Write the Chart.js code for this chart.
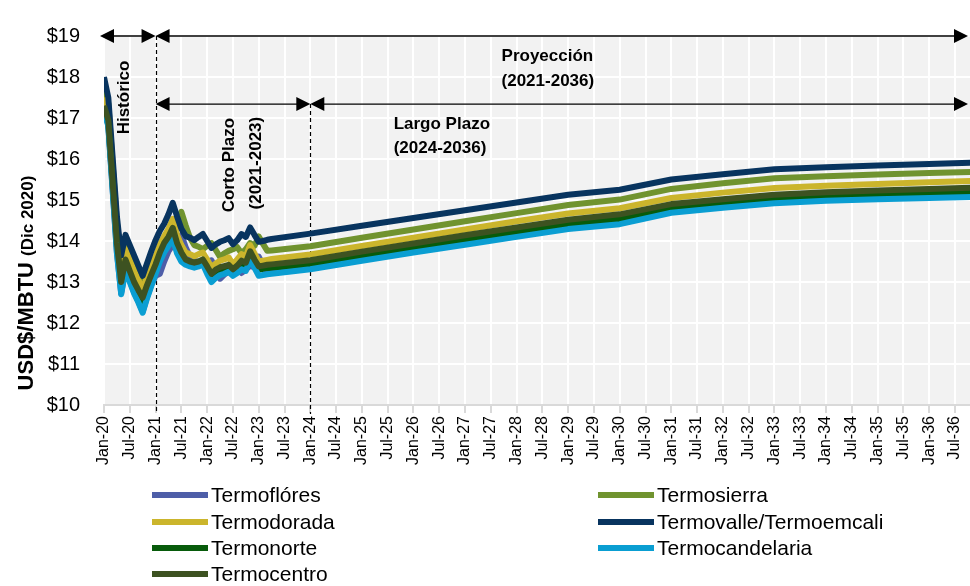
<!DOCTYPE html>
<html>
<head>
<meta charset="utf-8">
<script src="https://cdn.jsdelivr.net/npm/chart.js@4"></script>
<style>
  html, body { margin: 0; padding: 0; background: #fff; }
  #wrap { width: 970px; height: 586px; }
</style>
</head>
<body>
<div id="wrap"><canvas id="gasChart" width="970" height="586"></canvas></div>
<script>
// --- Etiquetas mensuales Jan-20 ... Dec-36 ---
const monthNames = ['Jan', 'Feb', 'Mar', 'Apr', 'May', 'Jun', 'Jul', 'Aug', 'Sep', 'Oct', 'Nov', 'Dec'];
const months = [];
for (let yr = 20; yr <= 36; yr++) {
    monthNames.forEach(m => months.push(m + '-' + yr));
}

// Tramo mensual (Jan-20 .. Apr-23) y vértices anuales del largo plazo
const shortTermMonths = months.slice(0, 40);
const longTermMonths = ['Jan-24', 'Jan-25', 'Jan-26', 'Jan-27', 'Jan-28', 'Jan-29', 'Jan-30',
    'Jan-31', 'Jan-32', 'Jan-33', 'Jan-34', 'Jan-35', 'Jan-36', 'Dec-36'];

const seriesNames = ['Termoflóres', 'Termosierra', 'Termodorada', 'Termovalle/Termoemcali',
    'Termonorte', 'Termocandelaria', 'Termocentro'];
const seriesColors = ['#4e5ea8', '#70932f', '#cbb52c', '#08345f', '#075b0b', '#0a9ed2', '#3d5221'];

// --- Precios USD$/MBTU (Dic 2020) ---
const floresShort = [17.23, 16.83, 15.28, 13.73, 12.73, 13.33, 13.03, 12.75, 12.53, 12.28, 12.63, 12.93,
    13.15, 13.2, 13.5, 13.75, 13.9, 14.05, 14.15, 13.85, 13.62, 13.52, 13.48, 13.45,
    13.48, 13.53, 13.3, 13.08, 13.18, 13.25, 13.3, 13.35, 13.22, 13.3, 13.4, 13.35,
    13.62, 13.42, 13.22, 13.24];
const floresLong = [13.37, 13.58, 13.78, 13.97, 14.16, 14.35, 14.47, 14.75, 14.87, 14.98, 15.04, 15.08, 15.11, 15.14];

const sierraShort = [17.78, 17.35, 15.9, 14.45, 13.45, 13.95, 13.7, 13.45, 13.2, 12.95, 13.2, 13.4,
    13.55, 13.62, 13.8, 14.08, 14.28, 14.43, 14.71, 14.38, 14.08, 13.9, 13.86, 13.8,
    13.88, 13.95, 13.78, 13.61, 13.7, 13.76, 13.8, 13.85, 13.7, 13.8, 13.95, 13.88,
    14.11, 13.93, 13.76, 13.77];
const sierraLong = [13.87, 14.08, 14.28, 14.48, 14.68, 14.88, 15.01, 15.27, 15.41, 15.53, 15.58, 15.62, 15.66, 15.69];

const doradaShort = [17.5, 17.1, 15.65, 14.2, 13.25, 13.8, 13.52, 13.27, 13.05, 12.82, 13.12, 13.4,
    13.63, 13.92, 14.12, 14.3, 14.54, 14.15, 13.9, 13.72, 13.68, 13.63, 13.68, 13.72,
    13.55, 13.36, 13.45, 13.52, 13.55, 13.6, 13.43, 13.55, 13.68, 13.62, 13.9, 13.7,
    13.5, 13.52, 13.54, 13.56];
const doradaLong = [13.67, 13.88, 14.08, 14.28, 14.48, 14.67, 14.8, 15.05, 15.18, 15.29, 15.35, 15.39, 15.43, 15.47];

const valleShort = [18.0, 17.5, 16.05, 14.6, 13.65, 14.15, 13.9, 13.65, 13.4, 13.15, 13.45, 13.75,
    14.02, 14.25, 14.42, 14.65, 14.93, 14.6, 14.3, 14.12, 14.08, 14.02, 14.1, 14.17,
    14.0, 13.83, 13.92, 13.98, 14.02, 14.07, 13.92, 14.02, 14.17, 14.1, 14.33, 14.15,
    13.98, 14.0, 14.03, 14.05];
const valleLong = [14.18, 14.37, 14.56, 14.75, 14.94, 15.13, 15.25, 15.5, 15.63, 15.75, 15.8, 15.84, 15.88, 15.91];

const norteShort = [17.22, 16.87, 15.37, 13.87, 12.92, 13.47, 13.19, 12.92, 12.72, 12.54, 12.84, 13.1,
    13.35, 13.64, 13.87, 14.02, 14.24, 13.87, 13.64, 13.47, 13.42, 13.39, 13.42, 13.47,
    13.3, 13.12, 13.22, 13.28, 13.31, 13.34, 13.23, 13.32, 13.44, 13.39, 13.67, 13.47,
    13.3, 13.32, 13.34, 13.35];
const norteLong = [13.43, 13.64, 13.84, 14.03, 14.22, 14.41, 14.53, 14.79, 14.91, 15.02, 15.08, 15.12, 15.16, 15.19];

const candelariaShort = [17.2, 16.8, 15.25, 13.7, 12.7, 13.3, 13.0, 12.72, 12.5, 12.25, 12.6, 12.9,
    13.2, 13.5, 13.72, 13.88, 14.06, 13.7, 13.5, 13.42, 13.38, 13.35, 13.38, 13.43,
    13.2, 13.0, 13.1, 13.17, 13.2, 13.25, 13.15, 13.22, 13.31, 13.27, 13.55, 13.35,
    13.15, 13.17, 13.19, 13.2];
const candelariaLong = [13.31, 13.52, 13.72, 13.91, 14.1, 14.29, 14.41, 14.69, 14.81, 14.92, 14.98, 15.02, 15.05, 15.08];

const centroShort = [17.3, 16.95, 15.45, 13.95, 13.0, 13.55, 13.27, 13.0, 12.8, 12.62, 12.92, 13.18,
    13.43, 13.72, 13.95, 14.1, 14.32, 13.95, 13.72, 13.55, 13.5, 13.47, 13.5, 13.55,
    13.38, 13.2, 13.3, 13.36, 13.39, 13.42, 13.31, 13.4, 13.52, 13.47, 13.75, 13.55,
    13.38, 13.4, 13.42, 13.43];
const centroLong = [13.53, 13.74, 13.94, 14.14, 14.33, 14.52, 14.65, 14.9, 15.02, 15.13, 15.19, 15.23, 15.27, 15.3];

const shortSeries = [floresShort, sierraShort, doradaShort, valleShort, norteShort, candelariaShort, centroShort];
const longSeries = [floresLong, sierraLong, doradaLong, valleLong, norteLong, candelariaLong, centroLong];

const FONT = "'Liberation Sans', Arial, sans-serif";

// --- Convertir a puntos {x: índice de mes, y: precio} ---
const toPoints = (shortVals, longVals) => [
    ...shortTermMonths.map((m, i) => ({ x: months.indexOf(m), y: shortVals[i] })),
    ...longTermMonths.map((m, i) => ({ x: months.indexOf(m), y: longVals[i] })),
];

const datasets = seriesNames.map((name, i) => ({
    label: name,
    data: toPoints(shortSeries[i], longSeries[i]),
    borderColor: seriesColors[i],
    backgroundColor: seriesColors[i],
    borderWidth: 6,
    pointRadius: 0,
    borderJoinStyle: 'round',
    tension: 0,
    order: seriesNames.length - i, // como en Excel: la última serie encima
}));

// --- Fondo gris del área de trazado ---
const plotBackground = {
    id: 'plotBackground',
    beforeDraw(chart) {
        const { ctx, chartArea: a } = chart;
        ctx.save();
        ctx.fillStyle = '#f2f2f2';
        ctx.fillRect(a.left, a.top, a.right - a.left, a.bottom - a.top);
        ctx.restore();
    }
};

// --- Líneas punteadas (debajo de las series) ---
const dashedDividers = {
    id: 'dashedDividers',
    beforeDatasetsDraw(chart) {
        const { ctx, scales: { x, y }, chartArea: a } = chart;
        ctx.save();
        ctx.strokeStyle = '#000';
        ctx.lineWidth = 1.2;
        ctx.setLineDash([4, 3]);
        [[12, 19], [48, 17.34]].forEach(([m, top]) => {
            const px = Math.round(x.getPixelForValue(m)) + 0.5;
            ctx.beginPath();
            ctx.moveTo(px, y.getPixelForValue(top));
            ctx.lineTo(px, a.bottom + 9);
            ctx.stroke();
        });
        ctx.restore();
    }
};

function arrowHead(ctx, tipX, py, dir) {
    ctx.beginPath();
    ctx.moveTo(tipX, py);
    ctx.lineTo(tipX - dir * 14, py - 7);
    ctx.lineTo(tipX - dir * 14, py + 7);
    ctx.closePath();
    ctx.fill();
}

function doubleArrow(ctx, x1, x2, py) {
    ctx.beginPath();
    ctx.moveTo(x1 + 4, py);
    ctx.lineTo(x2 - 4, py);
    ctx.stroke();
    arrowHead(ctx, x1, py, -1);
    arrowHead(ctx, x2, py, 1);
}

// --- Flechas, textos de periodos, título del eje y leyenda ---
const annotations = {
    id: 'annotations',
    afterDraw(chart) {
        const { ctx, scales: { x, y }, chartArea: a } = chart;
        ctx.save();
        ctx.strokeStyle = '#000';
        ctx.fillStyle = '#000';
        ctx.lineWidth = 1.3;

        const right = a.right - 2;
        const yTop = y.getPixelForValue(19);
        const yMid = y.getPixelForValue(17.34);
        doubleArrow(ctx, x.getPixelForValue(0) - 4, x.getPixelForValue(12), yTop);
        doubleArrow(ctx, x.getPixelForValue(12), right, yTop);
        doubleArrow(ctx, x.getPixelForValue(12), x.getPixelForValue(48), yMid);
        doubleArrow(ctx, x.getPixelForValue(48), right, yMid);

        // textos verticales
        ctx.font = 'bold 17px ' + FONT;
        ctx.textAlign = 'center';
        ctx.textBaseline = 'middle';
        const vText = (txt, m, v) => {
            ctx.save();
            ctx.translate(x.getPixelForValue(m), y.getPixelForValue(v));
            ctx.rotate(-Math.PI / 2);
            ctx.fillText(txt, 0, 0);
            ctx.restore();
        };
        vText('Histórico', 4.8, 17.5);
        vText('Corto Plazo', 29.1, 15.85);
        vText('(2021-2023)', 35.4, 15.9);

        // textos horizontales
        ctx.textAlign = 'left';
        ctx.fillText('Proyección', x.getPixelForValue(92.5), y.getPixelForValue(18.5));
        ctx.fillText('(2021-2036)', x.getPixelForValue(92.5), y.getPixelForValue(17.89));
        ctx.fillText('Largo Plazo', x.getPixelForValue(67.4), y.getPixelForValue(16.84));
        ctx.fillText('(2024-2036)', x.getPixelForValue(67.4), y.getPixelForValue(16.25));

        // título del eje Y
        ctx.save();
        ctx.translate(33, 283);
        ctx.rotate(-Math.PI / 2);
        ctx.textBaseline = 'alphabetic';
        const bigFont = 'bold 22px ' + FONT;
        const smallFont = 'bold 17px ' + FONT;
        ctx.font = bigFont;
        const t1 = 'USD$/MBTU ';
        const w1 = ctx.measureText(t1).width;
        ctx.font = smallFont;
        const t2 = '(Dic 2020)';
        const w2 = ctx.measureText(t2).width;
        let start = -(w1 + w2) / 2;
        ctx.font = bigFont;
        ctx.fillText(t1, start, 0);
        ctx.font = smallFont;
        ctx.fillText(t2, start + w1, 0);
        ctx.restore();

        // leyenda en dos columnas
        const colX = [152, 598];
        const rowY = [495, 522, 548, 574];
        ctx.font = '21px ' + FONT;
        ctx.textBaseline = 'middle';
        ctx.lineWidth = 6;
        seriesNames.forEach((name, i) => {
            const cx = colX[i % 2];
            const cy = rowY[Math.floor(i / 2)];
            ctx.strokeStyle = seriesColors[i];
            ctx.beginPath();
            ctx.moveTo(cx, cy);
            ctx.lineTo(cx + 56, cy);
            ctx.stroke();
            ctx.fillStyle = '#000';
            ctx.fillText(name, cx + 59, cy + 1);
        });
        ctx.restore();
    }
};

new Chart(document.getElementById('gasChart'), {
    type: 'line',
    data: { datasets },
    plugins: [plotBackground, dashedDividers, annotations],
    options: {
        responsive: false,
        animation: false,
        layout: { padding: { top: 25, right: 0, bottom: 0, left: 0 } },
        plugins: {
            legend: { display: false },
            tooltip: { enabled: false }
        },
        scales: {
            x: {
                type: 'linear',
                min: 0,
                max: 201.5,
                afterFit: (s) => { s.height = 181; s.paddingLeft = 0; s.paddingRight = 0; },
                ticks: {
                    stepSize: 6,
                    includeBounds: false,
                    autoSkip: false,
                    minRotation: 90,
                    maxRotation: 90,
                    padding: 3,
                    color: '#000',
                    font: { family: FONT, size: 16 },
                    callback: (v) => months[v]
                },
                grid: { color: '#ffffff', lineWidth: 2, tickColor: '#d9d9d9', tickLength: 8 },
                border: { color: '#d9d9d9', width: 2 }
            },
            y: {
                min: 10,
                max: 19,
                afterFit: (s) => { s.width = 104; },
                ticks: {
                    stepSize: 1,
                    padding: 24,
                    color: '#000',
                    font: { family: FONT, size: 20 },
                    callback: (v) => '$' + v
                },
                grid: { color: '#ffffff', lineWidth: 2, drawTicks: false },
                border: { display: false }
            }
        }
    }
});
</script>
</body>
</html>
